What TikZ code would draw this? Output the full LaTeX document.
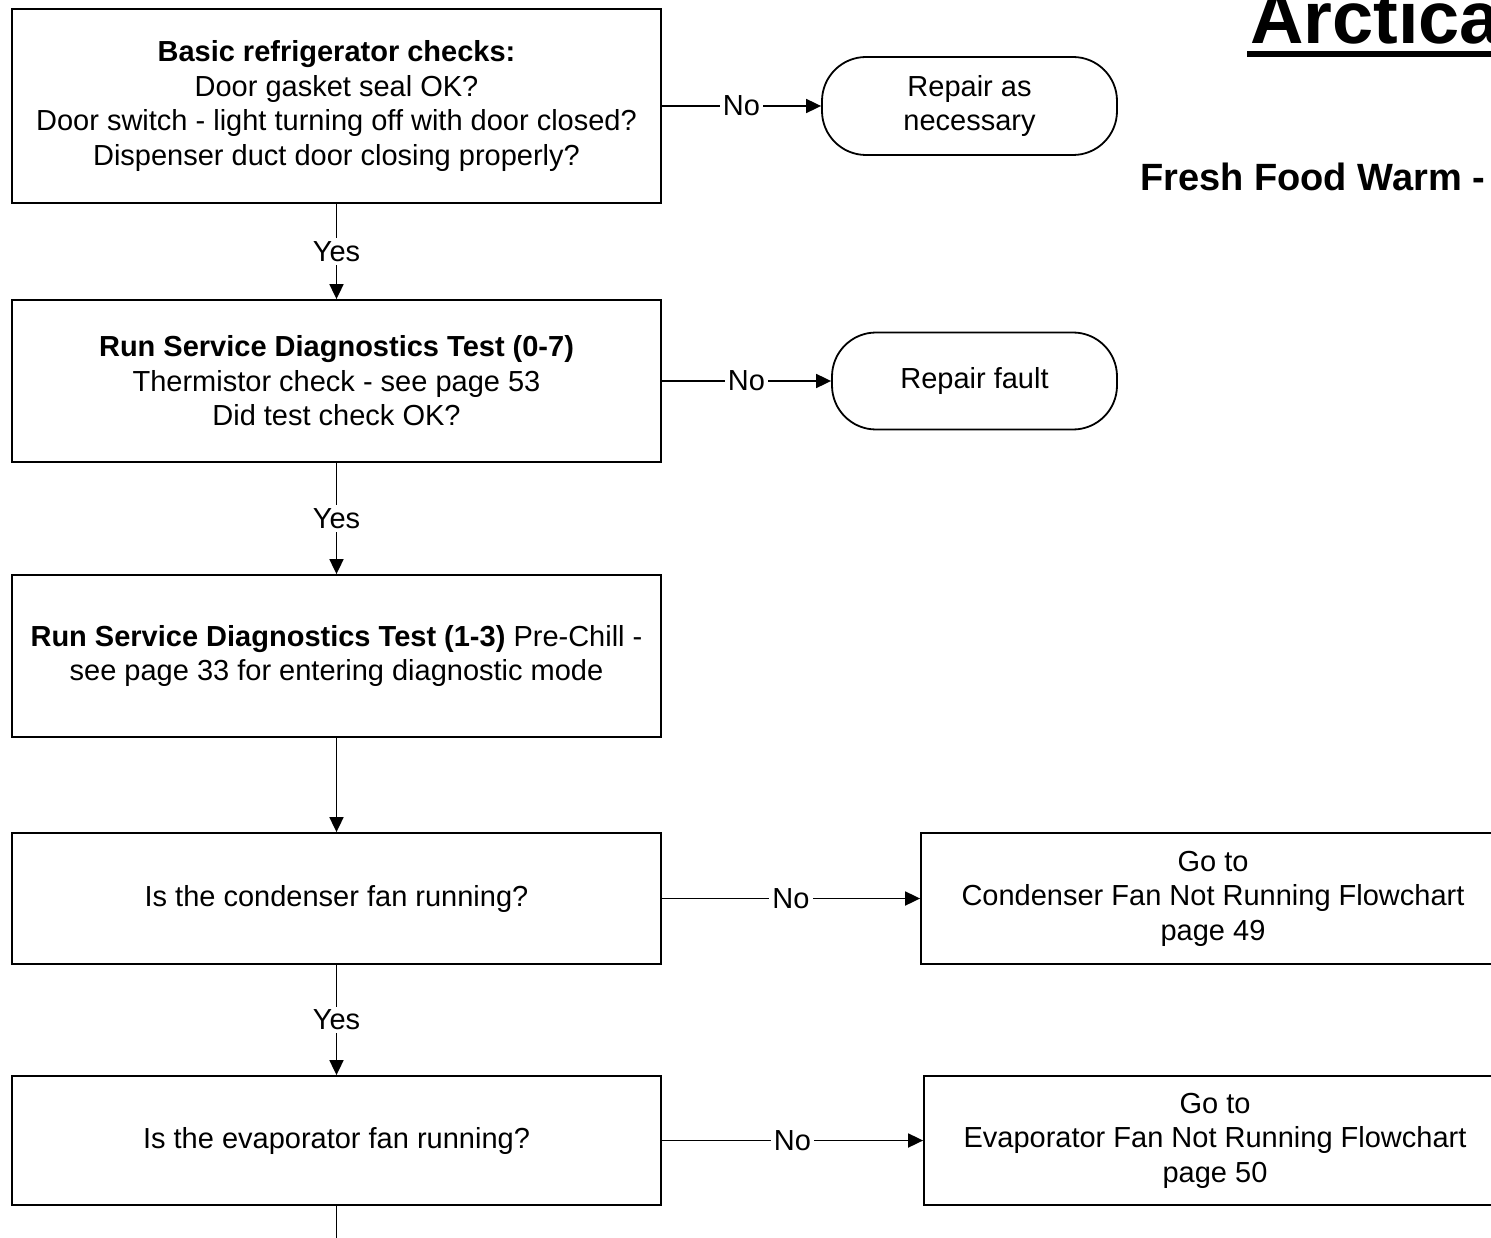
\documentclass[tikz,border=0pt]{standalone}
\usepackage{fontspec}
\setmainfont{Liberation Sans}
\usetikzlibrary{arrows.meta,calc}
\begin{document}
\begin{tikzpicture}[x=1pt,y=-1pt,
  every node/.style={font=\fontsize{29}{34.5}\selectfont, text=black},
  box/.style={draw, line width=1.8pt, align=center, inner sep=0pt},
  term/.style={draw, line width=1.8pt, align=center, rounded corners=44pt, inner sep=0pt},
  link/.style={line width=1.8pt, -{Triangle[length=15pt,width=14pt]}},
  plain/.style={line width=1.8pt},
  lbl/.style={fill=white, inner sep=3pt}]
\useasboundingbox (0,0) rectangle (1491,1238);
\clip (0,0) rectangle (1491,1238);

% heading
\node[anchor=base west, inner sep=0pt, font=\fontsize{74}{80}\selectfont\bfseries] (title) at (1250,44) {Arctica};
\draw[line width=6.5pt] ($(title.base west)+(-3,10)$) -- ($(title.base east)+(3,10)$);
\node[anchor=base west, inner sep=0pt, font=\fontsize{38}{42}\selectfont\bfseries] (sub) at (1140,191) {Fresh Food Warm -};

% main column
\node[box, minimum width=649pt, minimum height=194pt] (b1) at (336.5,106)
  {\textbf{Basic refrigerator checks:}\\Door gasket seal OK?\\Door switch - light turning off with door closed?\\Dispenser duct door closing properly?};
\node[box, minimum width=649pt, minimum height=162pt] (b2) at (336.5,381)
  {\textbf{Run Service Diagnostics Test (0-7)}\\Thermistor check - see page 53\\Did test check OK?};
\node[box, minimum width=649pt, minimum height=162pt] (b3) at (336.5,656)
  {\textbf{Run Service Diagnostics Test (1-3)} Pre-Chill -\\see page 33 for entering diagnostic mode};
\node[box, minimum width=649pt, minimum height=131pt] (b4) at (336.5,898.5)
  {Is the condenser fan running?};
\node[box, minimum width=649pt, minimum height=129pt] (b6) at (336.5,1140.5)
  {Is the evaporator fan running?};

% outcomes
\node[term, minimum width=295pt, minimum height=98pt] (t1) at (969.5,106) {Repair as\\necessary};
\node[term, minimum width=285pt, minimum height=97pt] (t2) at (974.5,381) {Repair fault};
\node[box, minimum width=584pt, minimum height=131pt] (b5) at (1213,898.5)
  {Go to\\Condenser Fan Not Running Flowchart\\page 49};
\node[box, minimum width=582pt, minimum height=129pt] (b7) at (1215,1140.5)
  {Go to\\Evaporator Fan Not Running Flowchart\\page 50};

\coordinate (tail) at (336.5,1250);

% connectors
\draw[link] (b1.east) -- node[lbl]{No} (t1.west);
\draw[link] (b2.east) -- node[lbl]{No} (t2.west);
\draw[link] (b4.east) -- node[lbl]{No} (b5.west);
\draw[link] (b6.east) -- node[lbl]{No} (b7.west);
\draw[link] (b1.south) -- node[lbl]{Yes} (b2.north);
\draw[link] (b2.south) -- node[lbl]{Yes} (b3.north);
\draw[link] (b3.south) -- (b4.north);
\draw[link] (b4.south) -- node[lbl]{Yes} (b6.north);
\draw[plain] (b6.south) -- (tail);
\end{tikzpicture}
\end{document}
